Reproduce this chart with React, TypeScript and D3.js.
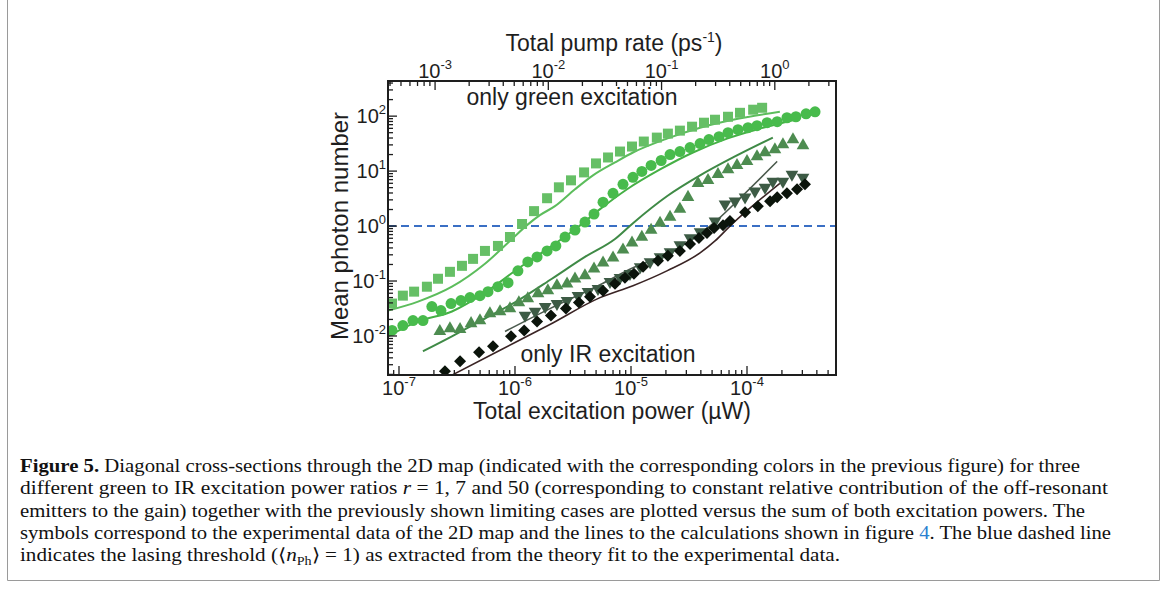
import React, { useRef, useEffect } from 'react';
import * as d3 from 'd3';

// total excitation power (µW) vs mean photon number
const onlyGreenX = [8.7e-8, 1.08e-7, 1.35e-7, 1.74e-7, 2.17e-7, 2.75e-7, 3.49e-7, 4.35e-7, 5.51e-7, 7.13e-7, 9.05e-7, 1.15e-6, 1.46e-6, 1.89e-6, 2.39e-6, 3.04e-6, 3.94e-6, 4.99e-6, 6.34e-6, 8.04e-6, 1.02e-5, 1.29e-5, 1.67e-5, 2.08e-5, 2.64e-5, 3.36e-5, 4.26e-5, 5.3e-5, 6.86e-5, 8.7e-5, 1.13e-4, 1.35e-4];
const onlyGreenY = [0.0389, 0.0542, 0.0641, 0.0788, 0.11, 0.147, 0.189, 0.253, 0.353, 0.435, 0.632, 1.09, 1.87, 3.21, 5.07, 6.79, 9.47, 13.8, 17.7, 22.7, 28.0, 34.5, 40.7, 48.1, 54.5, 64.3, 76.0, 86.1, 97.5, 115, 131, 142];

const ratio50X = [8.71e-8, 1.08e-7, 1.32e-7, 1.61e-7, 1.92e-7, 2.3e-7, 2.81e-7, 3.42e-7, 4.09e-7, 4.99e-7, 5.85e-7, 7.13e-7, 8.71e-7, 1.06e-6, 1.29e-6, 1.55e-6, 1.89e-6, 2.25e-6, 2.7e-6, 3.29e-6, 4.01e-6, 4.8e-6, 5.74e-6, 7.0e-6, 8.53e-6, 1.04e-5, 1.24e-5, 1.49e-5, 1.82e-5, 2.17e-5, 2.64e-5, 3.23e-5, 3.94e-5, 4.7e-5, 5.74e-5, 6.86e-5, 8.36e-5, 1.02e-4, 1.22e-4, 1.49e-4, 1.82e-4, 2.21e-4, 2.64e-4, 3.23e-4, 3.86e-4];
const ratio50Y = [0.0126, 0.0155, 0.0191, 0.0191, 0.0343, 0.029, 0.0389, 0.0441, 0.0499, 0.0542, 0.0641, 0.0788, 0.0931, 0.153, 0.223, 0.275, 0.353, 0.435, 0.632, 0.847, 1.18, 1.65, 2.72, 3.95, 5.75, 7.69, 9.88, 12.7, 15.6, 20.0, 22.7, 26.8, 31.7, 37.4, 42.4, 50.1, 56.8, 61.7, 67.0, 76.0, 79.2, 93.5, 97.5, 110, 120];

const ratio7X = [2.25e-7, 2.75e-7, 3.36e-7, 4.18e-7, 4.99e-7, 6.08e-7, 7.43e-7, 9.05e-7, 1.08e-6, 1.29e-6, 1.58e-6, 1.92e-6, 2.3e-6, 2.81e-6, 3.29e-6, 4.01e-6, 4.8e-6, 5.74e-6, 7.0e-6, 8.53e-6, 1.02e-5, 1.24e-5, 1.49e-5, 1.78e-5, 2.17e-5, 2.64e-5, 3.1e-5, 3.78e-5, 4.61e-5, 5.62e-5, 6.86e-5, 8.2e-5, 1.0e-4, 1.22e-4, 1.43e-4, 1.74e-4, 2.04e-4, 2.49e-4, 3.04e-4];
const ratio7Y = [0.0121, 0.0137, 0.0132, 0.0169, 0.0191, 0.0256, 0.0279, 0.0315, 0.0405, 0.0479, 0.0589, 0.0668, 0.0822, 0.0893, 0.11, 0.125, 0.167, 0.214, 0.264, 0.368, 0.493, 0.632, 0.847, 1.13, 1.46, 2.03, 3.35, 6.0, 6.79, 8.71, 10.7, 12.7, 15.0, 18.4, 21.8, 24.7, 30.4, 37.4, 29.2];

const ratio1X = [1.22e-6, 1.49e-6, 1.82e-6, 2.3e-6, 2.81e-6, 3.49e-6, 4.26e-6, 5.19e-6, 6.59e-6, 8.04e-6, 9.8e-6, 1.2e-5, 1.46e-5, 1.78e-5, 2.17e-5, 2.64e-5, 3.23e-5, 3.94e-5, 5.3e-5, 6.46e-5, 7.88e-5, 9.62e-5, 1.17e-4, 1.43e-4, 1.67e-4, 2.04e-4, 2.44e-4, 3.04e-4];
const ratio1Y = [0.0236, 0.0279, 0.0343, 0.0389, 0.0441, 0.0542, 0.0641, 0.0726, 0.0971, 0.115, 0.136, 0.181, 0.223, 0.275, 0.339, 0.453, 0.607, 0.779, 1.23, 2.5, 2.83, 3.35, 4.3, 5.07, 6.51, 6.51, 8.71, 7.69];

const onlyIrX = [2.49e-7, 3.36e-7, 4.9e-7, 6.46e-7, 9.24e-7, 1.2e-6, 1.55e-6, 2.04e-6, 2.75e-6, 3.56e-6, 4.43e-6, 5.74e-6, 7.28e-6, 8.87e-6, 1.06e-5, 1.27e-5, 1.71e-5, 2.08e-5, 2.64e-5, 3.23e-5, 3.85e-5, 4.52e-5, 5.2e-5, 6.21e-5, 7.13e-5, 9.62e-5, 1.24e-4, 1.58e-4, 1.82e-4, 2.21e-4, 2.7e-4, 3.16e-4];
const onlyIrY = [0.00229, 0.00348, 0.00505, 0.00649, 0.00984, 0.0126, 0.0184, 0.0236, 0.0315, 0.0405, 0.052, 0.0668, 0.0893, 0.115, 0.136, 0.181, 0.233, 0.287, 0.353, 0.473, 0.607, 0.747, 0.92, 1.04, 1.23, 1.79, 2.3, 2.83, 3.35, 3.95, 4.67, 5.75];

// calculated curves
const calcGreenX = [8.04e-8, 1.46e-7, 2.86e-7, 5.51e-7, 9.42e-7, 1.27e-6, 1.64e-6, 2.21e-6, 3.29e-6, 4.7e-6, 7.28e-6, 1.04e-5, 2.04e-5, 3.94e-5, 7.57e-5, 1.92e-4];
const calcGreenY = [0.029, 0.0422, 0.0788, 0.206, 0.582, 1.04, 1.58, 2.3, 4.67, 8.36, 14.4, 21.8, 39.0, 61.7, 86.1, 120];
const calc50X = [8.04e-8, 1.46e-7, 2.86e-7, 5.51e-7, 1.06e-6, 2.08e-6, 3.49e-6, 5.41e-6, 9.25e-6, 1.78e-5, 3.42e-5, 6.73e-5, 1.29e-4, 2.59e-4];
const calc50Y = [0.00984, 0.0184, 0.0279, 0.0614, 0.167, 0.435, 0.959, 2.03, 4.67, 10.7, 21.8, 39.0, 59.2, 86.1];
const calc7X = [1.61e-7, 2.86e-7, 5.51e-7, 1.06e-6, 2.08e-6, 4.01e-6, 7.28e-6, 1.04e-5, 2.04e-5, 3.94e-5, 7.57e-5, 1.67e-4];
const calc7Y = [0.00527, 0.00984, 0.0208, 0.0441, 0.11, 0.275, 0.582, 1.13, 3.49, 8.36, 17.7, 40.7];
const calc1X = [8.2e-7, 2.0e-6, 5.41e-6, 1.04e-5, 2.04e-5, 3.23e-5, 5.51e-5, 9.25e-5, 1.82e-4];
const calc1Y = [0.0121, 0.0315, 0.0857, 0.174, 0.312, 0.536, 1.28, 3.64, 15.0];
const calcIrX = [2.86e-7, 7.43e-7, 2.0e-6, 5.41e-6, 1.04e-5, 2.04e-5, 3.94e-5, 5.3e-5, 7.13e-5, 1.06e-4, 1.92e-4];
const calcIrY = [0.00194, 0.00549, 0.0162, 0.0499, 0.0822, 0.153, 0.325, 0.536, 1.0, 2.12, 6.0];

const powerDomain = [8.04e-8, 5.85e-4];
const rateDomain = [3.84e-4, 3.47];
const photonDomain = [1.95e-3, 436];
const threshold = 1;

const zip = (xs: number[], ys: number[]) => xs.map((x, i) => [x, ys[i]] as [number, number]);

const sans = 'Liberation Sans, Arial, sans-serif';
const serif = 'Liberation Serif, Times New Roman, serif';

const Chart: React.FC = () => {
  const svgRef = useRef<SVGSVGElement | null>(null);

  useEffect(() => {
    if (!svgRef.current) return;
    const svg = d3.select(svgRef.current);
    svg.selectAll('*').remove();

    const left = 388, right = 836, top = 81, bottom = 375;

    const x = d3.scaleLog().domain(powerDomain).range([left, right]);
    const xTop = d3.scaleLog().domain(rateDomain).range([left, right]);
    const y = d3.scaleLog().domain(photonDomain).range([bottom, top]);
    const isMajor = (d: number) => Math.abs(Math.log10(d) - Math.round(Math.log10(d))) < 1e-6;
    const axisColor = '#1e1e1e';

    // outer figure border
    svg.append('path')
      .attr('d', 'M7.5,0 V580.5 H1159.5 V0')
      .attr('fill', 'none')
      .attr('stroke', '#9a9a9a')
      .attr('stroke-width', 1);

    svg.append('clipPath').attr('id', 'plot-clip')
      .append('rect')
      .attr('x', left).attr('y', top)
      .attr('width', right - left).attr('height', bottom - top);

    const plot = svg.append('g').attr('clip-path', 'url(#plot-clip)');

    // lasing threshold
    plot.append('line')
      .attr('x1', left).attr('x2', right)
      .attr('y1', y(threshold)).attr('y2', y(threshold))
      .attr('stroke', '#3a6fc4')
      .attr('stroke-width', 2)
      .attr('stroke-dasharray', '8 5');

    const line = d3.line<[number, number]>()
      .x(d => x(d[0]))
      .y(d => y(d[1]))
      .curve(d3.curveMonotoneX);

    const curves: [number[], number[], string, number][] = [
      [calcGreenX, calcGreenY, '#5cbd5c', 2],
      [calc50X, calc50Y, '#45b045', 2],
      [calc7X, calc7Y, '#3f8a46', 2],
      [calc1X, calc1Y, '#4b5a4d', 1.6],
      [calcIrX, calcIrY, '#3a2424', 1.6],
    ];
    curves.forEach(([xs, ys, color, w]) => {
      plot.append('path')
        .attr('d', line(zip(xs, ys)))
        .attr('fill', 'none')
        .attr('stroke', color)
        .attr('stroke-width', w);
    });

    const series: [number[], number[], d3.SymbolType, number, number, string][] = [
      [onlyGreenX, onlyGreenY, d3.symbolSquare, 100, 0, '#66bf66'],
      [ratio50X, ratio50Y, d3.symbolCircle, 95, 0, '#48bb4c'],
      [ratio7X, ratio7Y, d3.symbolTriangle, 70, 0, '#4d8c50'],
      [ratio1X, ratio1Y, d3.symbolTriangle, 70, 180, '#3d5b45'],
      [onlyIrX, onlyIrY, d3.symbolSquare, 72, 45, '#0b140b'],
    ];
    series.forEach(([xs, ys, type, size, rot, color]) => {
      plot.append('g')
        .selectAll('path')
        .data(zip(xs, ys))
        .join('path')
        .attr('d', d3.symbol().type(type).size(size)())
        .attr('transform', d => `translate(${x(d[0])},${y(d[1])}) rotate(${rot})`)
        .attr('fill', color);
    });

    // frame
    svg.append('rect')
      .attr('x', left).attr('y', top)
      .attr('width', right - left).attr('height', bottom - top)
      .attr('fill', 'none')
      .attr('stroke', axisColor)
      .attr('stroke-width', 2);

    const ticks = svg.append('g').attr('stroke', axisColor).attr('stroke-width', 1.3);

    x.ticks().forEach(d => {
      const len = isMajor(d) ? 9 : 5;
      ticks.append('line')
        .attr('x1', x(d)).attr('x2', x(d))
        .attr('y1', bottom).attr('y2', bottom - len);
    });
    xTop.ticks().forEach(d => {
      const len = isMajor(d) ? 9 : 5;
      ticks.append('line')
        .attr('x1', xTop(d)).attr('x2', xTop(d))
        .attr('y1', top).attr('y2', top + len);
    });
    y.ticks().forEach(d => {
      const len = isMajor(d) ? 9 : 5;
      ticks.append('line')
        .attr('x1', left).attr('x2', left + len)
        .attr('y1', y(d)).attr('y2', y(d));
    });

    const power = (g: d3.Selection<SVGTextElement, unknown, null, undefined>, d: number) => {
      g.append('tspan').text('10');
      g.append('tspan')
        .attr('dy', -9)
        .attr('font-size', 13)
        .text(String(Math.round(Math.log10(d))));
    };

    x.ticks().filter(isMajor).forEach(d => {
      const t = svg.append('text')
        .attr('x', x(d)).attr('y', 395)
        .attr('text-anchor', 'middle')
        .attr('font-family', sans).attr('font-size', 20).attr('fill', axisColor);
      power(t, d);
    });
    xTop.ticks().filter(isMajor).forEach(d => {
      const t = svg.append('text')
        .attr('x', xTop(d)).attr('y', 78)
        .attr('text-anchor', 'middle')
        .attr('font-family', sans).attr('font-size', 20).attr('fill', axisColor);
      power(t, d);
    });
    y.ticks().filter(isMajor).forEach(d => {
      const t = svg.append('text')
        .attr('x', 386).attr('y', y(d) + 7)
        .attr('text-anchor', 'end')
        .attr('font-family', sans).attr('font-size', 20).attr('fill', axisColor);
      power(t, d);
    });

    // axis titles
    svg.append('text')
      .attr('x', 612).attr('y', 419)
      .attr('text-anchor', 'middle')
      .attr('font-family', sans).attr('font-size', 23).attr('fill', axisColor)
      .text('Total excitation power (µW)');

    const topTitle = svg.append('text')
      .attr('x', 614).attr('y', 51)
      .attr('text-anchor', 'middle')
      .attr('font-family', sans).attr('font-size', 23).attr('fill', axisColor);
    topTitle.append('tspan').text('Total pump rate (ps');
    topTitle.append('tspan').attr('dy', -9).attr('font-size', 14).text('-1');
    topTitle.append('tspan').attr('dy', 9).text(')');

    svg.append('text')
      .attr('transform', 'translate(348,226) rotate(-90)')
      .attr('text-anchor', 'middle')
      .attr('font-family', sans).attr('font-size', 24).attr('fill', axisColor)
      .text('Mean photon number');

    svg.append('text')
      .attr('x', 572).attr('y', 105)
      .attr('text-anchor', 'middle')
      .attr('font-family', sans).attr('font-size', 23).attr('fill', axisColor)
      .text('only green excitation');

    svg.append('text')
      .attr('x', 608).attr('y', 362)
      .attr('text-anchor', 'middle')
      .attr('font-family', sans).attr('font-size', 23).attr('fill', axisColor)
      .text('only IR excitation');
  }, []);

  return (
    <svg
      ref={svgRef}
      width={1168}
      height={594}
      style={{ position: 'absolute', left: 0, top: 0 }}
    />
  );
};

const App: React.FC = () => {
  return (
    <div style={{ position: 'absolute', left: 0, top: 0, width: 1168, height: 594, background: '#fff' }}>
      <Chart />
      <svg width={1168} height={594} style={{ position: 'absolute', left: 0, top: 0 }}>
        <g fontFamily={serif} fontSize={18} fill="#111">
          <text x={20} y={472} textLength={1060} lengthAdjust="spacingAndGlyphs">
            <tspan fontWeight="bold">Figure 5.</tspan> Diagonal cross-sections through the 2D map (indicated with the corresponding colors in the previous figure) for three
          </text>
          <text x={20} y={494} textLength={1088} lengthAdjust="spacingAndGlyphs">
            different green to IR excitation power ratios <tspan fontStyle="italic">r</tspan> = 1, 7 and 50 (corresponding to constant relative contribution of the off-resonant
          </text>
          <text x={20} y={517} textLength={1065} lengthAdjust="spacingAndGlyphs">
            emitters to the gain) together with the previously shown limiting cases are plotted versus the sum of both excitation powers. The
          </text>
          <text x={20} y={539} textLength={1091} lengthAdjust="spacingAndGlyphs">
            symbols correspond to the experimental data of the 2D map and the lines to the calculations shown in figure <tspan fill="#2a7fd0">4</tspan>. The blue dashed line
          </text>
          <text x={20} y={561} textLength={820} lengthAdjust="spacingAndGlyphs">
            indicates the lasing threshold (⟨<tspan fontStyle="italic">n</tspan><tspan fontSize={12} dy={4}>Ph</tspan><tspan dy={-4}>⟩ = 1) as extracted from the theory fit to the experimental data.</tspan>
          </text>
        </g>
      </svg>
    </div>
  );
};

export default App;
